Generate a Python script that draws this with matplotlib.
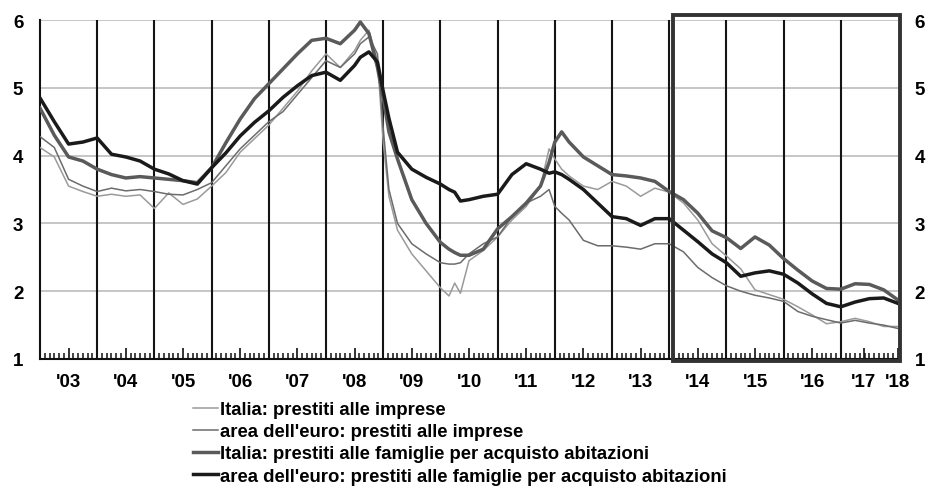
import matplotlib
matplotlib.use("Agg")
import matplotlib.pyplot as plt
from matplotlib.patches import Rectangle
import numpy as np

plt.rcParams["font.family"] = ["Liberation Sans", "DejaVu Sans"]

# ── DATA (% values) ──────────────────────────────────────────────────────────
dates = [2003.00, 2003.25, 2003.50, 2003.75,
         2004.00, 2004.25, 2004.50, 2004.75,
         2005.00, 2005.25, 2005.50, 2005.75,
         2006.00, 2006.25, 2006.50, 2006.75,
         2007.00, 2007.25, 2007.50, 2007.75,
         2008.00, 2008.25, 2008.50, 2008.60, 2008.75, 2008.90,
         2009.00, 2009.10, 2009.25, 2009.50, 2009.75,
         2010.00, 2010.15, 2010.25, 2010.35, 2010.50, 2010.75,
         2011.00, 2011.25, 2011.50, 2011.75, 2011.90,
         2012.00, 2012.12, 2012.25, 2012.50, 2012.75,
         2013.00, 2013.25, 2013.50, 2013.75,
         2014.00, 2014.25, 2014.50, 2014.75,
         2015.00, 2015.25, 2015.50, 2015.75,
         2016.00, 2016.25, 2016.50, 2016.75,
         2017.00, 2017.25, 2017.50, 2017.75,
         2018.00]

it_imprese = [4.12, 3.98, 3.55, 3.47,
              3.40, 3.43, 3.40, 3.42,
              3.22, 3.45, 3.28, 3.36,
              3.55, 3.75, 4.05, 4.25,
              4.45, 4.70, 4.95, 5.25,
              5.50, 5.30, 5.55, 5.70, 5.85, 5.40,
              4.20, 3.40, 2.90, 2.55, 2.30,
              2.05, 1.93, 2.12, 1.97, 2.45, 2.60,
              2.80, 3.05, 3.25, 3.55, 4.10,
              3.95, 3.80, 3.70, 3.55, 3.50,
              3.62, 3.55, 3.40, 3.52,
              3.46, 3.30, 3.05, 2.70,
              2.52, 2.33, 2.02, 1.95,
              1.88, 1.77, 1.65, 1.52,
              1.55, 1.60, 1.55, 1.48,
              1.48]

ea_imprese = [4.28, 4.12, 3.65, 3.55,
              3.47, 3.52, 3.48, 3.50,
              3.47, 3.43, 3.42, 3.50,
              3.60, 3.85, 4.10, 4.30,
              4.50, 4.65, 4.90, 5.15,
              5.40, 5.30, 5.50, 5.65, 5.75, 5.50,
              4.40, 3.50, 3.00, 2.70, 2.55,
              2.42, 2.40, 2.40, 2.42, 2.55, 2.70,
              2.80, 3.10, 3.30, 3.40, 3.50,
              3.25, 3.15, 3.05, 2.75, 2.67,
              2.67, 2.65, 2.62, 2.70,
              2.70, 2.58, 2.35, 2.20,
              2.08, 2.00, 1.94, 1.90,
              1.85, 1.70, 1.63, 1.58,
              1.53, 1.57, 1.53, 1.50,
              1.45]

it_famiglie = [4.70, 4.30, 3.98, 3.92,
               3.80, 3.72, 3.67, 3.69,
               3.67, 3.65, 3.63, 3.60,
               3.82, 4.19, 4.54, 4.84,
               5.06, 5.28, 5.50, 5.70,
               5.73, 5.65, 5.85, 5.97, 5.80, 5.30,
               4.85, 4.35, 3.95, 3.35, 3.00,
               2.72, 2.62, 2.57, 2.53, 2.53, 2.62,
               2.92, 3.10, 3.30, 3.55, 3.90,
               4.20, 4.35, 4.20, 3.98, 3.85,
               3.72, 3.70, 3.67, 3.62,
               3.47, 3.35, 3.15, 2.89,
               2.79, 2.63, 2.80, 2.68,
               2.48, 2.31, 2.15, 2.04,
               2.03, 2.11, 2.10, 2.02,
               1.87]

ea_famiglie = [4.85, 4.50, 4.17, 4.20,
               4.26, 4.02, 3.98, 3.92,
               3.80, 3.73, 3.63, 3.58,
               3.82, 4.04, 4.29, 4.49,
               4.66, 4.86, 5.03, 5.18,
               5.23, 5.11, 5.33, 5.45, 5.53, 5.38,
               4.95, 4.55, 4.05, 3.80, 3.68,
               3.58, 3.50, 3.46, 3.33, 3.35, 3.40,
               3.43, 3.72, 3.88, 3.80, 3.74,
               3.76, 3.72, 3.65, 3.50, 3.30,
               3.10, 3.07, 2.97, 3.07,
               3.07, 2.90, 2.73, 2.55,
               2.42, 2.22, 2.27, 2.30,
               2.25, 2.12, 1.96, 1.82,
               1.77, 1.84, 1.89, 1.90,
               1.82]

series_labels = ["Italia: prestiti alle imprese",
                 "area dell'euro: prestiti alle imprese",
                 "Italia: prestiti alle famiglie per acquisto abitazioni",
                 "area dell'euro: prestiti alle famiglie per acquisto abitazioni"]

year_lines = list(range(2004, 2018))
label_pos = [2003.5 + i for i in range(14)] + [2017.4, 2018.0]
year_labels = ["'%02d" % (y % 100) for y in range(2003, 2019)]

# ── FIGURE ───────────────────────────────────────────────────────────────────
fig = plt.figure(figsize=(9.31, 4.89), dpi=100)
ax = fig.add_axes([40 / 931, 129 / 489, 858 / 931, 339 / 489])
ax.set_xlim(2003, 2018)
ax.set_ylim(1, 6)

for y in [2, 3, 4, 5, 6]:
    ax.axhline(y, color="#c6c6c6", lw=1.4, zorder=1)
for x in year_lines:
    ax.axvline(x, color="#141414", lw=1.5, zorder=2)

styles = [("#9a9a9a", 1.1), ("#6c6c6c", 1.1), ("#5a5a5a", 2.5), ("#1a1a1a", 2.5)]
handles = []
for vals, (col, lw), lab in zip([it_imprese, ea_imprese, it_famiglie, ea_famiglie],
                                styles, series_labels):
    h, = ax.plot(dates, vals, color=col, lw=lw, label=lab, zorder=3,
                 solid_joinstyle="round")
    handles.append(h)

for side in ["top", "right"]:
    ax.spines[side].set_visible(False)
for side in ["left", "bottom"]:
    ax.spines[side].set_color("#111111")
    ax.spines[side].set_linewidth(1.5)

ax.set_yticks([1, 2, 3, 4, 5, 6])
ax.tick_params(axis="y", length=0, labelsize=13.5, pad=12,
               labelleft=True, labelright=True)

ax.set_xticks(label_pos)
ax.set_xticklabels(year_labels)
ax.set_xticks(np.arange(2003, 2018.001, 1 / 12), minor=True)
ax.tick_params(axis="x", which="major", direction="in", length=8, width=1.2,
               labelsize=13.5, pad=10, color="#111111")
ax.tick_params(axis="x", which="minor", direction="in", length=4.5, width=1.1,
               color="#111111")
for lab in ax.get_xticklabels():
    lab.set_fontweight("bold")
for t in ax.yaxis.get_major_ticks():
    t.label1.set_fontweight("bold")
    t.label2.set_fontweight("bold")

# highlighted box on the last years
box = Rectangle((2014.07, 0.97), 2018.035 - 2014.07, 6.07 - 0.97, fill=False,
                edgecolor="#333333", lw=2.8, clip_on=False, zorder=6)
ax.add_patch(box)

fig.legend(handles=handles, loc="upper left", bbox_to_anchor=(193 / 931, 1 - 402 / 489),
           frameon=False, prop={"size": 13.3, "weight": "bold"}, handlelength=1.35,
           handletextpad=0.1, labelspacing=0.28, borderpad=0, borderaxespad=0)

fig.savefig("out.png", dpi=100)
